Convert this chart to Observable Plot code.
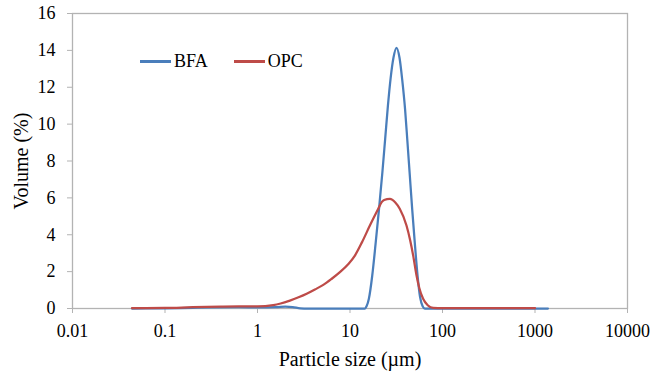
<!DOCTYPE html>
<html>
<head>
<meta charset="utf-8">
<script src="https://cdn.jsdelivr.net/npm/d3@7"></script>
<script src="https://cdn.jsdelivr.net/npm/@observablehq/plot@0.6"></script>
<style>
  html, body { margin: 0; padding: 0; background: white; }
  #wrap { position: relative; width: 666px; height: 372px; }
  #legend { position: absolute; left: 140px; top: 51px; display: flex; align-items: center;
            font-family: "Liberation Serif", serif; font-size: 18px; line-height: 21px; color: black; }
  .item { display: flex; align-items: center; }
  .sw { display: inline-block; width: 31px; height: 2.5px; margin-right: 3px; }
</style>
</head>
<body>
<div id="wrap"></div>
<script>
// Particle sizes (µm) and volume (%)
const bfaSize = [0.044, 0.1, 0.2, 0.32, 0.63, 1, 1.58, 2.0, 2.4, 2.9, 3.5, 10, 14.5, 15.1, 16.0, 17.4, 18.9, 20.5, 22.4, 24.0, 25.7, 27.5, 29.5, 31.8, 34.3, 36.7, 39.4, 41.7, 44.2, 47.0, 50.1, 53.7, 57.3, 61.0, 64.4, 100, 1000, 1380];
const bfaVol  = [0, 0.01, 0.04, 0.06, 0.07, 0.06, 0.07, 0.1, 0.08, 0.01, 0, 0, 0, 0.12, 0.53, 1.79, 3.5, 5.3, 7.4, 9.2, 11.0, 12.5, 13.6, 14.14, 13.6, 12.4, 10.8, 9.1, 7.3, 5.4, 3.6, 1.8, 0.6, 0.12, 0, 0, 0, 0];

const opcSize = [0.044, 0.1, 0.2, 0.4, 0.63, 1, 1.48, 1.78, 2.24, 2.82, 3.4, 4.17, 5.14, 6.3, 7.78, 9.55, 11.3, 13.5, 16.4, 20.2, 22, 23.4, 27, 30.9, 34.5, 40.8, 44.7, 48.2, 52.4, 56.2, 61.7, 69.2, 79.4, 100, 1000];
const opcVol  = [0.02, 0.03, 0.07, 0.1, 0.11, 0.11, 0.18, 0.27, 0.43, 0.62, 0.8, 1.03, 1.28, 1.6, 1.97, 2.4, 2.87, 3.6, 4.5, 5.41, 5.77, 5.88, 5.95, 5.75, 5.41, 4.5, 3.7, 2.87, 1.79, 1.1, 0.53, 0.18, 0.03, 0.02, 0.02];

const xTicks = [0.01, 0.1, 1, 10, 100, 1000, 10000];
const yTicks = [0, 2, 4, 6, 8, 10, 12, 14, 16];
const seriesNames = ["BFA", "OPC"];
const seriesColors = ["#4A7EBB", "#BE4B48"];

const bfa = bfaSize.map((s, i) => ({size: s, v: bfaVol[i]}));
const opc = opcSize.map((s, i) => ({size: s, v: opcVol[i]}));

const axisGray = "#b3b3b3";
const chart = Plot.plot({
  width: 666, height: 372,
  marginLeft: 72, marginRight: 39, marginTop: 13, marginBottom: 64,
  style: {fontFamily: "'Liberation Serif', serif", fontSize: "18px", background: "white", color: "black"},
  x: {type: "log", domain: [0.01, 10000]},
  y: {domain: [0, 16]},
  marks: [
    Plot.frame({stroke: axisGray, strokeWidth: 1.3}),
    Plot.axisY({ticks: yTicks, tickSize: 5, tickPadding: 12, stroke: axisGray, fill: "black", fontSize: 18, label: null}),
    Plot.axisY({ticks: [], fill: "black", fontSize: 20,
      label: "Volume (%)", labelAnchor: "center", labelArrow: "none", labelOffset: 59}),
    Plot.axisX({ticks: xTicks, tickFormat: d => String(d), tickSize: 5, tickPadding: 11, stroke: axisGray, fill: "black", fontSize: 18, label: null}),
    Plot.axisX({ticks: [], fill: "black", fontSize: 20,
      label: "Particle size (µm)", labelAnchor: "center", labelArrow: "none", labelOffset: 57}),
    Plot.line(bfa, {x: "size", y: "v", stroke: seriesColors[0], strokeWidth: 2.25, curve: "monotone-x"}),
    Plot.line(opc, {x: "size", y: "v", stroke: seriesColors[1], strokeWidth: 2.25, curve: "monotone-x"})
  ]
});
const wrap = document.getElementById("wrap");
wrap.appendChild(chart);

const legend = document.createElement("div");
legend.id = "legend";
seriesNames.forEach((n, i) => {
  const it = document.createElement("span");
  it.className = "item";
  if (i > 0) it.style.marginLeft = "26px";
  const sw = document.createElement("span");
  sw.className = "sw";
  sw.style.background = seriesColors[i];
  it.appendChild(sw);
  it.appendChild(document.createTextNode(n));
  legend.appendChild(it);
});
wrap.appendChild(legend);
</script>
</body>
</html>
